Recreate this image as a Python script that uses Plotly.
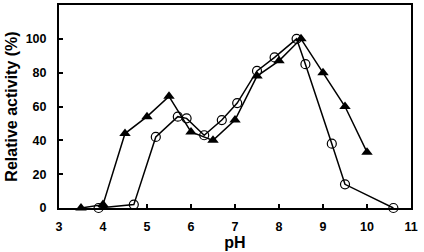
import plotly.graph_objects as go

ph_tri = [3.5, 4.0, 4.5, 5.0, 5.5, 6.0, 6.5, 7.0, 7.5, 8.0, 8.5, 9.0, 9.5, 10.0]
act_tri = [0, 2, 44, 54, 66, 45, 40, 52, 78, 87, 100, 80, 60, 33]

ph_circ = [3.9, 4.7, 5.2, 5.7, 5.9, 6.3, 6.7, 7.05, 7.5, 7.9, 8.4, 8.6, 9.2, 9.5, 10.6]
act_circ = [0, 2, 42, 54, 53, 43, 52, 62, 81, 89, 100, 85, 38, 14, 0]

x_ticks = [3, 4, 5, 6, 7, 8, 9, 10, 11]
y_ticks = [0, 20, 40, 60, 80, 100]

fig = go.Figure()
fig.add_trace(go.Scatter(
    x=ph_circ, y=act_circ, mode="lines+markers",
    line=dict(color="black", width=1.5),
    marker=dict(symbol="circle-open", size=9, color="black", line=dict(width=1.2)),
    cliponaxis=False, showlegend=False))
fig.add_trace(go.Scatter(
    x=ph_tri, y=act_tri, mode="lines+markers",
    line=dict(color="black", width=1.5),
    marker=dict(symbol="triangle-up", size=10, color="black"),
    cliponaxis=False, showlegend=False))

font_tick = dict(family="Liberation Sans, Arial, sans-serif", size=12.5, color="black", weight="bold")
font_title = dict(family="Liberation Sans, Arial, sans-serif", size=16, color="black", weight="bold")

fig.update_layout(
    width=424, height=252,
    margin=dict(l=59, r=13, t=3, b=44),
    paper_bgcolor="white", plot_bgcolor="white",
    xaxis=dict(range=[3, 11], tickvals=x_ticks, ticktext=[str(v) for v in x_ticks],
               ticks="inside", ticklen=4, tickwidth=1.5, tickcolor="black",
               showline=True, linecolor="black", linewidth=2, mirror=True,
               showgrid=False, zeroline=False, tickfont=font_tick,
               ticklabelstandoff=6,
               title=dict(text="pH", font=font_title, standoff=0)),
    yaxis=dict(range=[0, 120], tickvals=y_ticks, ticktext=[str(v) for v in y_ticks],
               ticks="inside", ticklen=4, tickwidth=1.5, tickcolor="black",
               showline=True, linecolor="black", linewidth=2, mirror=True,
               showgrid=False, zeroline=False, tickfont=font_tick,
               ticklabelstandoff=8,
               title=dict(text="Relative activity (%)", font=font_title, standoff=4)),
)

fig.write_html("out.html")
